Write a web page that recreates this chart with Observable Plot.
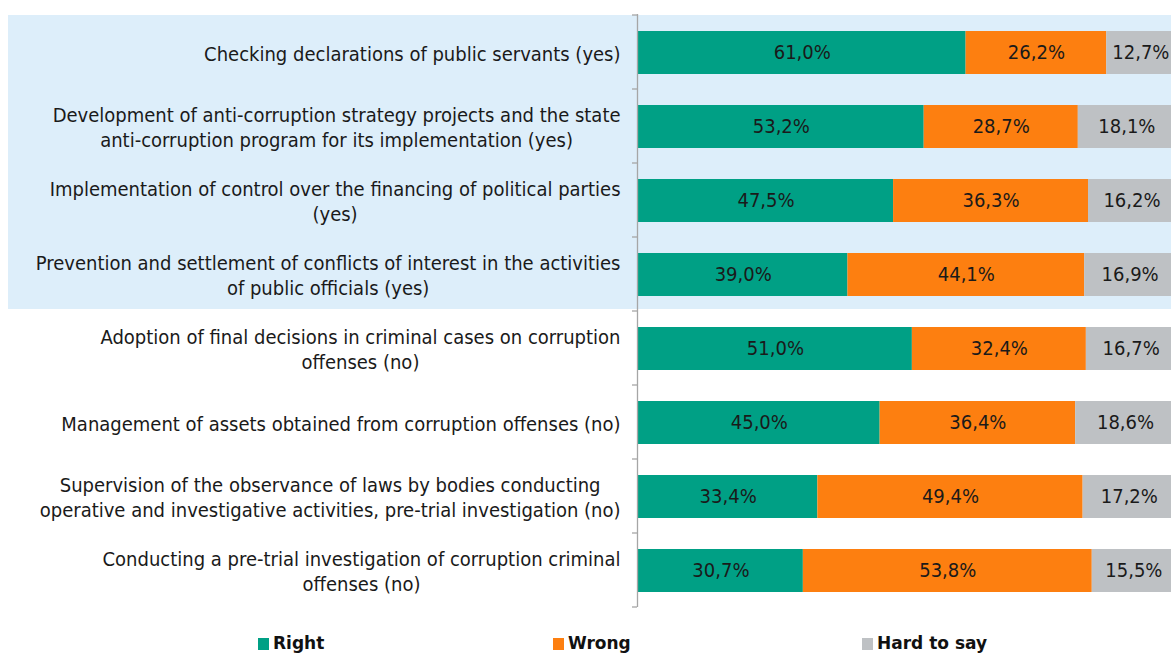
<!DOCTYPE html>
<html>
<head>
<meta charset="utf-8">
<script src="https://cdn.jsdelivr.net/npm/d3@7"></script>
<script src="https://cdn.jsdelivr.net/npm/@observablehq/plot@0.6"></script>
<style>
  html, body { margin: 0; padding: 0; background: #fff; }
  #wrap { position: relative; width: 1171px; height: 654px; overflow: hidden; font-family: "DejaVu Sans Condensed", "DejaVu Sans", sans-serif; }
  #wrap svg { overflow: hidden; }
  #legend { position: relative; height: 32px; font-family: "DejaVu Sans", sans-serif; font-weight: bold; font-size: 17px; color: #111; }
  .item { position: absolute; top: 11px; display: flex; align-items: center; white-space: nowrap; line-height: 20px; }
  .sw { width: 11px; height: 12px; margin-right: 4px; margin-top: 2px; }
</style>
</head>
<body>
<div id="wrap"></div>
<script>
const categories = [
  "Checking declarations of public servants (yes)",
  "Development of anti-corruption strategy projects and the state\nanti-corruption program for its implementation (yes)",
  "Implementation of control over the financing of political parties\n(yes)",
  "Prevention and settlement of conflicts of interest in the activities\nof public officials (yes)",
  "Adoption of final decisions in criminal cases on corruption\noffenses (no)",
  "Management of assets obtained from corruption offenses (no)",
  "Supervision of the observance of laws by bodies conducting\noperative and investigative activities, pre-trial investigation (no)",
  "Conducting a pre-trial investigation of corruption criminal\noffenses (no)"
];
const seriesNames = ["Right", "Wrong", "Hard to say"];
const rightValues = [61.0, 53.2, 47.5, 39.0, 51.0, 45.0, 33.4, 30.7];
const wrongValues = [26.2, 28.7, 36.3, 44.1, 32.4, 36.4, 49.4, 53.8];
const hardValues  = [12.7, 18.1, 16.2, 16.9, 16.7, 18.6, 17.2, 15.5];
const highlighted = categories.slice(0, 4);
const colors = ["#00a085", "#fd7f10", "#bec1c4"];

const W = 1171, H = 622;
const mTop = 14, mBottom = 15, mLeft = 638, mRight = -4;
const fontFamily = '"DejaVu Sans Condensed", "DejaVu Sans", sans-serif';
const fontSize = 20;
const lineHeightEm = 1.25;

const allSeries = [rightValues, wrongValues, hardValues];
const data = [];
categories.forEach((c, i) => {
  seriesNames.forEach((s, j) => data.push({cat: c, series: s, value: allSeries[j][i]}));
});
const fmt = v => v.toFixed(1).replace(".", ",") + "%";

// measure label lines to place multi-line labels right-aligned with centered lines
const ctx = document.createElement("canvas").getContext("2d");
ctx.font = `${fontSize}px ${fontFamily}`;
const labelGap = 18;
const labelMarks = categories.map(c => {
  const wMax = d3.max(c.split("\n"), l => ctx.measureText(l).width);
  return Plot.text([c], {
    y: d => d, text: d => d, frameAnchor: "left", textAnchor: "middle",
    dx: -(labelGap + wMax / 2), lineHeight: lineHeightEm,
    fontSize, fontFamily, fill: "#1a1a1a"
  });
});

const plot = Plot.plot({
  width: W, height: H,
  marginTop: mTop, marginBottom: mBottom, marginLeft: mLeft, marginRight: mRight,
  style: {fontFamily, fontSize: fontSize + "px", background: "transparent", overflow: "hidden"},
  x: {domain: [0, 100], axis: null},
  y: {domain: categories, padding: 0, axis: null},
  color: {domain: seriesNames, range: colors},
  marks: [
    Plot.barX(data, Plot.stackX({x: "value", y: "cat", fill: "series", order: seriesNames, insetTop: 16, insetBottom: 15})),
    Plot.text(data, Plot.stackX({x: "value", y: "cat", z: "series", order: seriesNames, text: d => fmt(d.value), fill: "#1a1a1a", fontSize})),
    Plot.ruleX([0], {stroke: "#a6a6a6", strokeWidth: 1.3, dx: -1}),
    ...labelMarks
  ]
});

// background panel for the "(yes)" group and band-boundary ticks, from the y scale
const ys = plot.scale("y");
const svg = d3.select(plot);
const top0 = ys.apply(highlighted[0]);
const bot0 = ys.apply(highlighted[highlighted.length - 1]) + ys.bandwidth;
svg.insert("rect", ":first-child")
  .attr("x", 8).attr("y", top0).attr("width", W - 8).attr("height", bot0 - top0 - 2)
  .attr("fill", "#ddeefa");
const xs = plot.scale("x");
const x0 = xs.apply(0) - 1;
const bounds = categories.map(c => ys.apply(c)).concat([ys.apply(categories[categories.length - 1]) + ys.bandwidth]);
svg.append("g").selectAll("line").data(bounds).join("line")
  .attr("x1", x0 - 5).attr("x2", x0).attr("y1", d => d).attr("y2", d => d)
  .attr("stroke", "#a6a6a6").attr("stroke-width", 1.3);

const wrap = document.getElementById("wrap");
wrap.appendChild(plot);

const legend = document.createElement("div");
legend.id = "legend";
const legendLeft = [258, 553, 862];
seriesNames.forEach((s, i) => {
  const item = document.createElement("div");
  item.className = "item";
  item.style.left = legendLeft[i] + "px";
  item.innerHTML = `<span class="sw" style="background:${colors[i]}"></span><span>${s}</span>`;
  legend.appendChild(item);
});
wrap.appendChild(legend);
</script>
</body>
</html>
